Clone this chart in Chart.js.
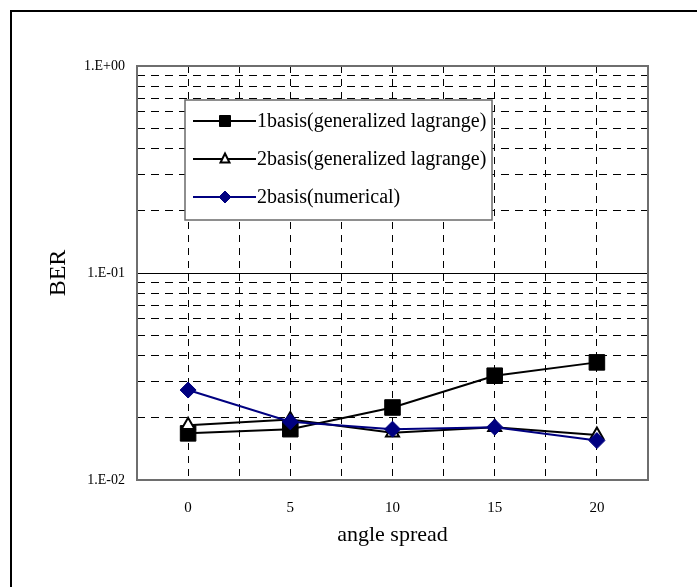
<!DOCTYPE html>
<html>
<head>
<meta charset="utf-8">
<title>BER vs angle spread</title>
<script src="https://cdn.jsdelivr.net/npm/chart.js"></script>
<style>
  html, body { margin: 0; padding: 0; background: #fff; overflow: hidden; }
  #frame { position: absolute; left: 10px; top: 10px; width: 800px; height: 700px; border: 2px solid #000; }
  #wrap { position: absolute; left: 0; top: 0; width: 697px; height: 587px; }
</style>
</head>
<body>
<div id="frame"></div>
<div id="wrap"><canvas id="chart" width="697" height="587"></canvas></div>
<script>
// ---- Data ----
const angleSpread = [0, 5, 10, 15, 20];
const seriesLabels = [
  '1basis(generalized lagrange)',
  '2basis(generalized lagrange)',
  '2basis(numerical)'
];
const ber1basisLagrange = [0.0168, 0.0176, 0.0224, 0.0319, 0.0370];
const ber2basisLagrange = [0.0184, 0.0196, 0.0169, 0.0180, 0.0165];
const ber2basisNumerical = [0.0272, 0.0191, 0.0176, 0.0180, 0.0155];

// y axis: grid values and decade labels
const yGridValues = [0.01, 0.02, 0.03, 0.04, 0.05, 0.06, 0.07, 0.08, 0.09,
                     0.1, 0.2, 0.3, 0.4, 0.5, 0.6, 0.7, 0.8, 0.9, 1];
const yDecades = [0.01, 0.1, 1];
const yTickLabels = ['1.E-02', '1.E-01', '1.E+00'];
// x axis: grid lines every half step
const xGridValues = [-2.5, 0, 2.5, 5, 7.5, 10, 12.5, 15, 17.5, 20, 22.5];

const SERIF = "'Liberation Serif', 'Times New Roman', serif";
const NAVY = '#000080';

function toPoints(ys) {
  return angleSpread.map((x, i) => ({ x: x, y: ys[i] }));
}
function decadeIndex(v) {
  return yDecades.findIndex(d => Math.abs(d - v) < 1e-9);
}

// ---- small marker drawer (used by the legend) ----
function drawMarker(ctx, style, x, y, r) {
  ctx.beginPath();
  if (style === 'rect') {
    ctx.rect(x - r, y - r, 2 * r, 2 * r);
  } else if (style === 'triangle') {
    ctx.moveTo(x, y - r * 1.1);
    ctx.lineTo(x + r * 0.9, y + r * 0.7);
    ctx.lineTo(x - r * 0.9, y + r * 0.7);
    ctx.closePath();
  } else {
    ctx.moveTo(x, y - r);
    ctx.lineTo(x + r, y);
    ctx.lineTo(x, y + r);
    ctx.lineTo(x - r, y);
    ctx.closePath();
  }
}

// ---- Plot frame + inner legend ----
const framePlugin = {
  id: 'frameAndLegend',
  afterDatasetsDraw(chart) {
    const ctx = chart.ctx;
    const a = chart.chartArea;
    ctx.save();
    // plot area border
    ctx.lineWidth = 2;
    ctx.strokeStyle = '#6e6e6e';
    ctx.strokeRect(a.left, a.top, a.right - a.left, a.bottom - a.top);

    // legend box
    const bx = 185, by = 100, bw = 307, bh = 120;
    ctx.fillStyle = '#fff';
    ctx.fillRect(bx, by, bw, bh);
    ctx.lineWidth = 1.5;
    ctx.strokeStyle = '#6a6a6a';
    ctx.strokeRect(bx, by, bw, bh);

    const rows = [121, 159, 197];
    const legendMarkers = [
      { r: 5.5, fill: '#000', stroke: '#000', lw: 1 },
      { r: 5, fill: '#fff', stroke: '#000', lw: 2 },
      { r: 6, fill: NAVY, stroke: NAVY, lw: 1 }
    ];
    chart.data.datasets.forEach((ds, i) => {
      const y = rows[i];
      ctx.strokeStyle = ds.borderColor;
      ctx.lineWidth = 2;
      ctx.beginPath();
      ctx.moveTo(193, y);
      ctx.lineTo(256, y);
      ctx.stroke();
      const m = legendMarkers[i];
      drawMarker(ctx, ds.pointStyle, 225, y, m.r);
      ctx.fillStyle = m.fill;
      ctx.fill();
      ctx.lineWidth = m.lw;
      ctx.strokeStyle = m.stroke;
      ctx.stroke();
      ctx.fillStyle = '#000';
      ctx.font = '20px ' + SERIF;
      ctx.textAlign = 'left';
      ctx.textBaseline = 'middle';
      ctx.fillText(ds.label, 257, y + 1);
    });
    ctx.restore();
  }
};

// ---- Chart ----
new Chart(document.getElementById('chart'), {
  type: 'line',
  data: {
    datasets: [
      {
        label: seriesLabels[0],
        data: toPoints(ber1basisLagrange),
        borderColor: '#000',
        backgroundColor: '#000',
        borderWidth: 2,
        pointStyle: 'rect',
        pointRadius: 11,
        pointBackgroundColor: '#000',
        pointBorderColor: '#000',
        pointBorderWidth: 1,
        order: 3
      },
      {
        label: seriesLabels[1],
        data: toPoints(ber2basisLagrange),
        borderColor: '#000',
        backgroundColor: '#fff',
        borderWidth: 2,
        pointStyle: 'triangle',
        pointRadius: 7.5,
        pointBackgroundColor: '#fff',
        pointBorderColor: '#000',
        pointBorderWidth: 2,
        order: 2
      },
      {
        label: seriesLabels[2],
        data: toPoints(ber2basisNumerical),
        borderColor: NAVY,
        backgroundColor: NAVY,
        borderWidth: 2,
        pointStyle: 'rectRot',
        pointRadius: 8,
        pointBackgroundColor: NAVY,
        pointBorderColor: NAVY,
        pointBorderWidth: 1,
        order: 1
      }
    ]
  },
  options: {
    responsive: false,
    animation: false,
    events: [],
    layout: { padding: { left: 44, top: 66, right: 49, bottom: 39 } },
    plugins: {
      legend: { display: false },
      tooltip: { enabled: false }
    },
    scales: {
      x: {
        type: 'linear',
        min: -2.5,
        max: 22.5,
        afterBuildTicks: (scale) => { scale.ticks = xGridValues.map(v => ({ value: v })); },
        afterFit: (scale) => { scale.height = 68; },
        ticks: {
          autoSkip: false,
          maxRotation: 0,
          padding: 19,
          color: '#000',
          font: { family: SERIF, size: 15 },
          callback: (v) => angleSpread.includes(v) ? String(v) : ''
        },
        grid: { color: '#000', lineWidth: 1, drawTicks: false },
        border: { display: false, dash: [7, 6] },
        title: {
          display: true,
          text: 'angle spread',
          color: '#000',
          font: { family: SERIF, size: 22 },
          padding: { top: 0, bottom: 0 }
        }
      },
      y: {
        type: 'logarithmic',
        min: 0.01,
        max: 1,
        afterBuildTicks: (scale) => { scale.ticks = yGridValues.map(v => ({ value: v })); },
        afterFit: (scale) => { scale.width = 93; },
        ticks: {
          autoSkip: false,
          padding: 12,
          color: '#000',
          font: { family: SERIF, size: 14 },
          callback: (v) => {
            const i = decadeIndex(v);
            return i >= 0 ? yTickLabels[i] : '';
          }
        },
        grid: { color: '#000', lineWidth: 1, drawTicks: false },
        border: {
          display: false,
          dash: (ctx) => (ctx.tick && decadeIndex(ctx.tick.value) >= 0) ? [] : [8, 6]
        },
        title: {
          display: true,
          text: 'BER',
          color: '#000',
          font: { family: SERIF, size: 24 },
          padding: { top: 0, bottom: 0 }
        }
      }
    }
  },
  plugins: [framePlugin]
});
</script>
</body>
</html>
